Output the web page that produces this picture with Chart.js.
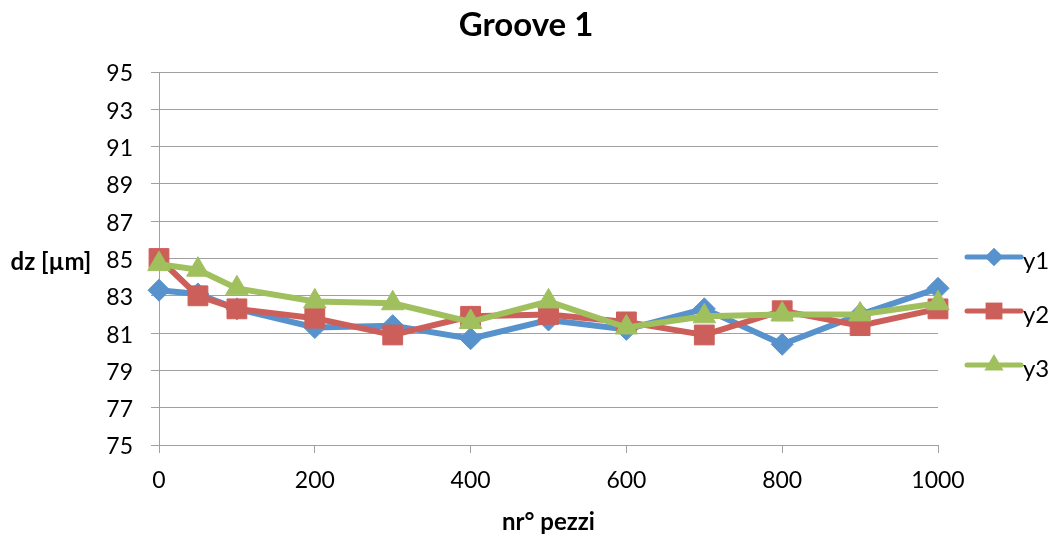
<!DOCTYPE html>
<html>
<head>
<meta charset="utf-8">
<script src="https://cdn.jsdelivr.net/npm/chart.js@4.4.0/dist/chart.umd.min.js"></script>
<style>
    html, body { margin: 0; padding: 0; background: #fff; }
    #wrap { width: 1056px; height: 540px; }
</style>
</head>
<body>
<div id="wrap"><canvas id="grafico" width="1056" height="540"></canvas></div>
<script>
// dati
const pezzi = [0, 50, 100, 200, 300, 400, 500, 600, 700, 800, 900, 1000];
const y1 = [83.3, 83.1, 82.3, 81.3, 81.4, 80.7, 81.7, 81.2, 82.3, 80.4, 82.0, 83.4];
const y2 = [85.0, 83.0, 82.3, 81.8, 80.9, 81.9, 82.0, 81.6, 80.9, 82.2, 81.4, 82.3];
const y3 = [84.7, 84.4, 83.4, 82.7, 82.6, 81.6, 82.7, 81.3, 81.9, 82.0, 82.0, 82.6];
const serieNomi = ['y1', 'y2', 'y3'];
const xTicks = [0, 200, 400, 600, 800, 1000];
const yTicks = [75, 77, 79, 81, 83, 85, 87, 89, 91, 93, 95];

const colori = ['#5892CC', '#CD5F5A', '#A0C05E'];
const marcatori = ['rectRot', 'rect', 'triangle'];
const raggi = [11, 14, 13];
const fontBase = 'Lato, "Open Sans", sans-serif';
const grigio = '#A0A0A0';

const toPoints = vals => vals.map((v, i) => ({ x: pezzi[i], y: v }));

const datasets = [y1, y2, y3].map((vals, i) => ({
    label: serieNomi[i],
    data: toPoints(vals),
    borderColor: colori[i],
    backgroundColor: colori[i],
    borderWidth: 6,
    pointStyle: marcatori[i],
    pointRadius: raggi[i],
    pointHoverRadius: raggi[i],
    pointBorderWidth: 1,
    pointBorderColor: colori[i],
    pointBackgroundColor: colori[i],
    tension: 0,
    clip: false,
    order: 3 - i, // y3 disegnata sopra
}));

// marcatore semplice per la legenda
function disegnaMarcatore(ctx, tipo, r, x, y) {
    ctx.beginPath();
    if (tipo === 'rect') {
        const s = r * Math.SQRT1_2;
        ctx.rect(x - s, y - s, 2 * s, 2 * s);
    } else if (tipo === 'rectRot') {
        ctx.moveTo(x - r, y);
        ctx.lineTo(x, y - r);
        ctx.lineTo(x + r, y);
        ctx.lineTo(x, y + r);
        ctx.closePath();
    } else {
        ctx.moveTo(x, y - r);
        ctx.lineTo(x + r * Math.sin(Math.PI * 2 / 3), y - r * Math.cos(Math.PI * 2 / 3));
        ctx.lineTo(x + r * Math.sin(Math.PI * 4 / 3), y - r * Math.cos(Math.PI * 4 / 3));
        ctx.closePath();
    }
    ctx.fill();
}

const legendaDestra = {
    id: 'legendaDestra',
    afterDraw(chart) {
        const ctx = chart.ctx;
        const x0 = 967, x1 = 1021, yStart = 257, passo = 54;
        chart.data.datasets.forEach((ds, i) => {
            const y = yStart + i * passo;
            ctx.save();
            ctx.strokeStyle = ds.borderColor;
            ctx.fillStyle = ds.borderColor;
            ctx.lineWidth = 5;
            ctx.lineCap = 'round';
            ctx.beginPath();
            ctx.moveTo(x0, y);
            ctx.lineTo(x1, y);
            ctx.stroke();
            disegnaMarcatore(ctx, ds.pointStyle, ds.pointRadius * 0.85, (x0 + x1) / 2, y);
            ctx.fillStyle = '#000';
            ctx.font = '24px ' + fontBase;
            ctx.textBaseline = 'alphabetic';
            ctx.textAlign = 'left';
            ctx.fillText(ds.label, x1 + 2, y + 12);
            ctx.restore();
        });
    }
};

// titolo e titolo asse y orizzontale
const testiFissi = {
    id: 'testiFissi',
    afterDraw(chart) {
        const ctx = chart.ctx;
        ctx.save();
        ctx.fillStyle = '#000';
        ctx.textBaseline = 'alphabetic';
        ctx.textAlign = 'center';
        ctx.font = 'bold 33px ' + fontBase;
        ctx.fillText('Groove 1', chart.width / 2 - 2, 36);
        ctx.font = 'bold 24px ' + fontBase;
        ctx.fillText('dz [µm]', 51, chart.scales.y.getPixelForValue(85) + 11);
        ctx.restore();
    }
};

const ctx = document.getElementById('grafico').getContext('2d');

new Chart(ctx, {
    type: 'line',
    data: { datasets: datasets },
    options: {
        responsive: false,
        animation: false,
        devicePixelRatio: 1,
        layout: { padding: { left: 0, right: 118, top: 72, bottom: 0 } },
        plugins: {
            legend: { display: false },
            tooltip: { enabled: false },
            title: { display: false },
        },
        scales: {
            x: {
                type: 'linear',
                min: 0,
                max: 1000,
                afterBuildTicks: axis => { axis.ticks = xTicks.map(v => ({ value: v })); },
                afterFit: axis => { axis.height = 95; },
                ticks: {
                    color: '#000',
                    padding: 14,
                    maxRotation: 0,
                    font: { family: fontBase, size: 23 },
                    callback: v => String(v),
                },
                grid: {
                    drawOnChartArea: false,
                    drawTicks: true,
                    tickLength: 8,
                    color: grigio,
                },
                border: { color: grigio, width: 1 },
                title: {
                    display: true,
                    text: 'nr° pezzi',
                    color: '#000',
                    font: { family: fontBase, size: 24, weight: 'bold' },
                    padding: { top: 0, bottom: 3 },
                },
            },
            y: {
                min: 75,
                max: 95,
                afterBuildTicks: axis => { axis.ticks = yTicks.map(v => ({ value: v })); },
                afterFit: axis => { axis.width = 159; },
                ticks: {
                    color: '#000',
                    padding: 18,
                    labelOffset: 2,
                    font: { family: fontBase, size: 23 },
                    callback: v => String(v),
                },
                grid: {
                    color: grigio,
                    drawTicks: true,
                    tickLength: 8,
                },
                border: { color: grigio, width: 1 },
            },
        },
    },
    plugins: [legendaDestra, testiFissi],
});
</script>
</body>
</html>
